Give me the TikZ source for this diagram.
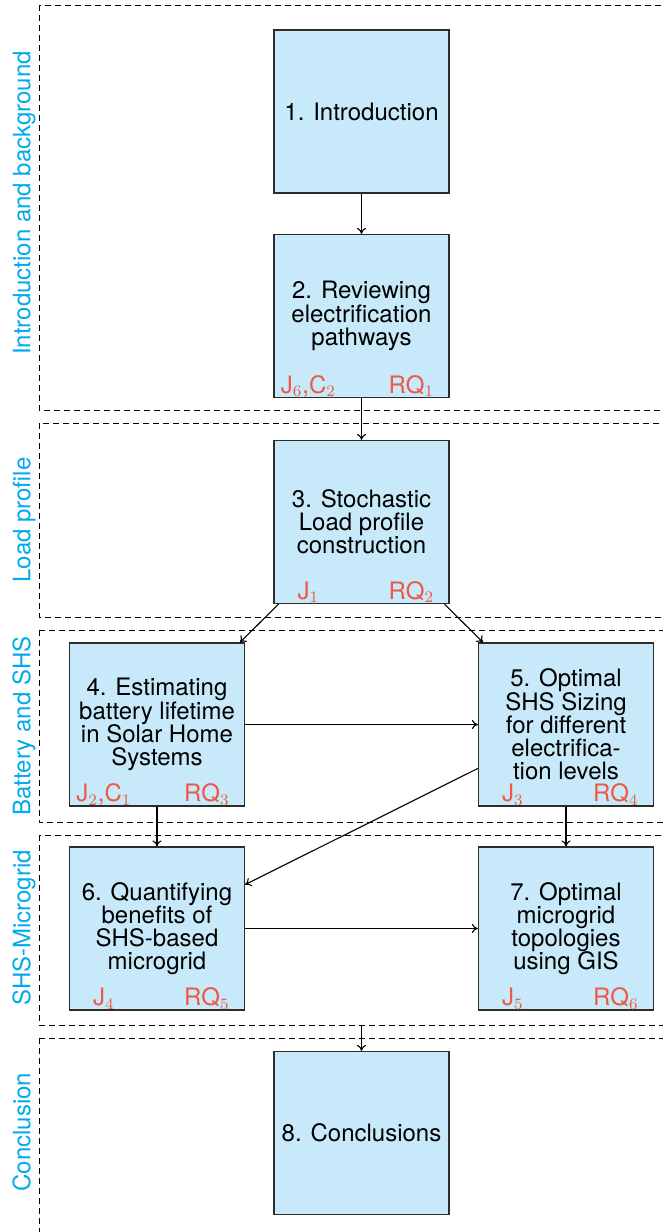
\documentclass[tikz,border=0pt]{standalone}
\usepackage{fontspec}
\setmainfont{TeX Gyre Heros}
\usetikzlibrary{arrows.meta}
\definecolor{boxfill}{RGB}{199,233,249}
\definecolor{boxedge}{RGB}{45,45,45}
\definecolor{reflabel}{RGB}{238,88,68}
\definecolor{parttitle}{RGB}{0,170,236}
\begin{document}
\begin{tikzpicture}[x=0.5pt,y=-0.5pt,
  chapter/.style={draw=boxedge,line width=0.6pt,fill=boxfill,
    minimum width=87.5pt,minimum height=81.5pt,inner sep=0pt,
    align=center,font=\fontsize{12}{11.6}\selectfont},
  ref/.style={text=reflabel,anchor=base,inner sep=0pt,
    font=\fontsize{12}{12}\selectfont},
  part/.style={text=parttitle,rotate=90,anchor=base,inner sep=0pt,
    font=\fontsize{12}{12}\selectfont},
  frame/.style={draw=black,line width=0.5pt,dash pattern=on 3pt off 2pt},
  link/.style={draw,line width=0.55pt,-{To[length=3pt,width=4.5pt]}}]
\useasboundingbox (0,0) rectangle (663,1232);

% dashed frames of the five parts
\draw[frame] (39,5) rectangle (700,410);
\draw[frame] (39,423) rectangle (700,617);
\draw[frame] (39,630) rectangle (700,822);
\draw[frame] (39,835) rectangle (700,1025);
\draw[frame] (39,1038) rectangle (700,1260);

% part titles
\node[part] (p1) at (30.5,203) {Introduction and background};
\node[part] (p2) at (30.5,520) {Load profile};
\node[part] (p3) at (30.5,726) {Battery and SHS};
\node[part] (p4) at (30.5,928) {SHS-Microgrid};
\node[part] (p5) at (30.5,1132) {Conclusion};

% chapters
\node[chapter] (n1) at (361.5,111.5) {1. Introduction};
\node[chapter] (n2) at (361.5,316) {2. Reviewing\\electrification\\pathways};
\node[chapter] (n3) at (361.5,522) {3. Stochastic\\Load profile\\construction};
\node[chapter] (n4) at (157,724.5) {4. Estimating\\battery lifetime\\in Solar Home\\Systems};
\node[chapter] (n5) at (566,724.5) {5. Optimal\\SHS Sizing\\for different\\electrifica-\\tion levels};
\node[chapter] (n6) at (157,928.5) {6. Quantifying\\benefits of\\SHS-based\\microgrid};
\node[chapter] (n7) at (566,928.5) {7. Optimal\\microgrid\\topologies\\using GIS};
\node[chapter] (n8) at (361.5,1133) {8. Conclusions};

% publications and research questions
\node[ref] (j2) at ([xshift=17.5pt,yshift=2.5pt]n2.south west) {J$_6$,C$_2$};
\node[ref] (q2) at ([xshift=69pt,yshift=2.5pt]n2.south west) {RQ$_1$};
\node[ref] (j3) at ([xshift=17.5pt,yshift=2.5pt]n3.south west) {J$_1$};
\node[ref] (q3) at ([xshift=69pt,yshift=2.5pt]n3.south west) {RQ$_2$};
\node[ref] (j4) at ([xshift=17.5pt,yshift=2.5pt]n4.south west) {J$_2$,C$_1$};
\node[ref] (q4) at ([xshift=69pt,yshift=2.5pt]n4.south west) {RQ$_3$};
\node[ref] (j5) at ([xshift=17.5pt,yshift=2.5pt]n5.south west) {J$_3$};
\node[ref] (q5) at ([xshift=69pt,yshift=2.5pt]n5.south west) {RQ$_4$};
\node[ref] (j6) at ([xshift=17.5pt,yshift=2.5pt]n6.south west) {J$_4$};
\node[ref] (q6) at ([xshift=69pt,yshift=2.5pt]n6.south west) {RQ$_5$};
\node[ref] (j7) at ([xshift=17.5pt,yshift=2.5pt]n7.south west) {J$_5$};
\node[ref] (q7) at ([xshift=69pt,yshift=2.5pt]n7.south west) {RQ$_6$};

% flow between chapters
\coordinate (c78) at (361.5,1025);
\draw[link] (n1) -- (n2);
\draw[link] (n2) -- (n3);
\draw[link] (n3) -- (n4);
\draw[link] (n3) -- (n5);
\draw[link] (n4) -- (n5);
\draw[link] (n4) -- (n6);
\draw[link] (n5) -- (n6);
\draw[link] (n5) -- (n7);
\draw[link] (n6) -- (n7);
\draw[link] (c78) -- (n8);
\end{tikzpicture}
\end{document}
